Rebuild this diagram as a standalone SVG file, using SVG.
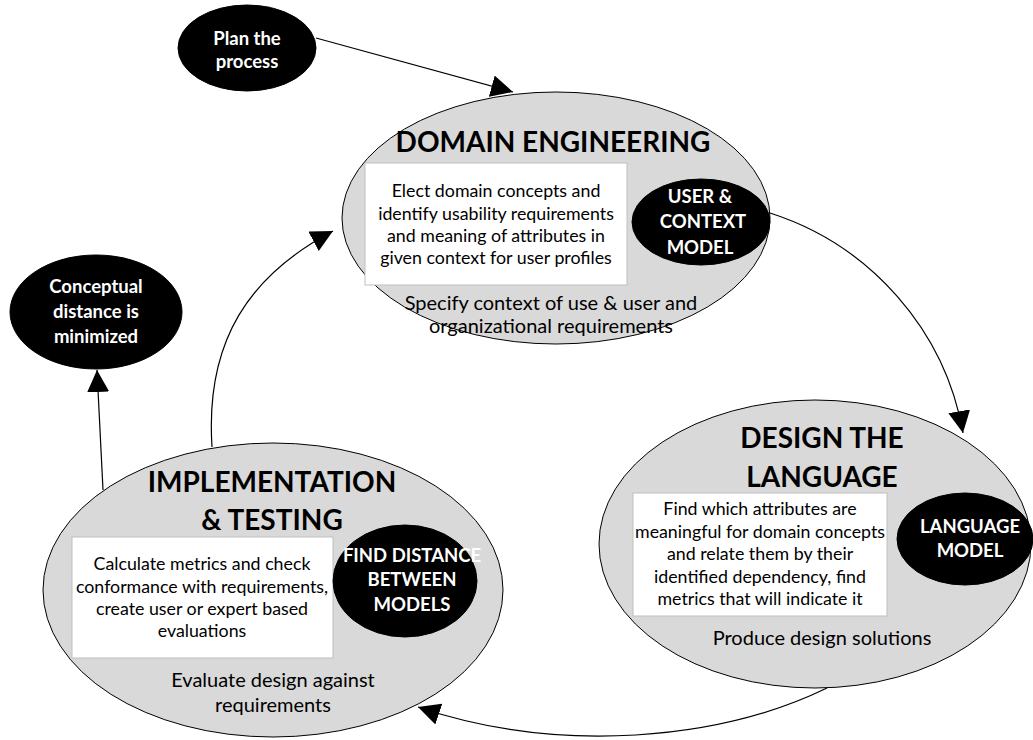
<svg xmlns="http://www.w3.org/2000/svg" width="1033" height="740" viewBox="0 0 1033 740">
<defs>
<marker id="arr" markerUnits="userSpaceOnUse" markerWidth="22" markerHeight="22" viewBox="0 0 22 22" refX="22" refY="11" orient="auto">
<path d="M0,0 L22,11 L0,22 z" fill="#000"/>
</marker>
</defs>
<style>
.phase{fill:#d9d9d9;stroke:#000;stroke-width:1}
.dark{fill:#000;stroke:#000;stroke-width:1}
.box{fill:#fff;stroke:#bfbfbf;stroke-width:1}
.title{font-family:Lato,"Liberation Sans",sans-serif;font-weight:bold;font-size:28px;fill:#000;text-anchor:middle}
.btxt{font-family:Lato,"Liberation Sans",sans-serif;font-size:17.8px;fill:#000;text-anchor:middle}
.stxt{font-family:Lato,"Liberation Sans",sans-serif;font-size:20px;fill:#000;text-anchor:middle}
.wtxt{font-family:Lato,"Liberation Sans",sans-serif;font-weight:bold;font-size:18.5px;fill:#fff;text-anchor:middle}
.conn{fill:none;stroke:#000;stroke-width:1.2}
</style>
<rect width="1033" height="740" fill="#fff"/>
<g id="plan">
<ellipse class="dark" cx="247" cy="48" rx="69" ry="43"/>
<text class="wtxt" x="247" y="45">Plan the</text>
<text class="wtxt" x="247" y="68">process</text>
</g>
<g id="domain">
<ellipse class="phase" cx="556" cy="218" rx="214" ry="126"/>
<text class="title" x="553" y="152">DOMAIN ENGINEERING</text>
<rect class="box" x="365" y="163" width="262" height="122"/>
<text class="btxt" x="496" y="197">Elect domain concepts and</text>
<text class="btxt" x="496" y="220">identify usability requirements</text>
<text class="btxt" x="496" y="242">and meaning of attributes in</text>
<text class="btxt" x="496" y="264">given context for user profiles</text>
<text class="stxt" x="551" y="310">Specify context of use &amp; user and</text>
<text class="stxt" x="551" y="333">organizational requirements</text>
</g>
<g id="usermodel">
<ellipse class="dark" cx="701" cy="222" rx="69" ry="43"/>
<text class="wtxt" x="700" y="203">USER &amp;</text>
<text class="wtxt" x="703" y="228">CONTEXT</text>
<text class="wtxt" x="700" y="254">MODEL</text>
</g>
<g id="design">
<ellipse class="phase" cx="815" cy="544" rx="216" ry="144"/>
<text class="title" x="822" y="448">DESIGN THE</text>
<text class="title" x="822" y="487">LANGUAGE</text>
<rect class="box" x="633" y="493" width="254" height="123"/>
<text class="btxt" x="760" y="515">Find which attributes are</text>
<text class="btxt" x="760" y="538">meaningful for domain concepts</text>
<text class="btxt" x="760" y="560">and relate them by their</text>
<text class="btxt" x="760" y="583">identified dependency, find</text>
<text class="btxt" x="760" y="605">metrics that will indicate it</text>
<text class="stxt" x="822" y="645">Produce design solutions</text>
</g>
<g id="langmodel">
<ellipse class="dark" cx="965" cy="539" rx="68" ry="46"/>
<text class="wtxt" x="970" y="533">LANGUAGE</text>
<text class="wtxt" x="970" y="557">MODEL</text>
</g>
<g id="impl">
<ellipse class="phase" cx="273" cy="590" rx="230" ry="147"/>
<text class="title" x="272" y="492">IMPLEMENTATION</text>
<text class="title" x="272" y="530">&amp; TESTING</text>
<rect class="box" x="72" y="537" width="261" height="121"/>
<text class="btxt" x="202" y="570">Calculate metrics and check</text>
<text class="btxt" x="202" y="593">conformance with requirements,</text>
<text class="btxt" x="202" y="615">create user or expert based</text>
<text class="btxt" x="202" y="637">evaluations</text>
<text class="stxt" x="273" y="687">Evaluate design against</text>
<text class="stxt" x="273" y="712">requirements</text>
</g>
<g id="distance">
<ellipse class="dark" cx="405" cy="581" rx="72" ry="56"/>
<text class="wtxt" x="412" y="562">FIND DISTANCE</text>
<text class="wtxt" x="412" y="586">BETWEEN</text>
<text class="wtxt" x="412" y="611">MODELS</text>
</g>
<g id="conceptual">
<ellipse class="dark" cx="96" cy="312" rx="86" ry="57"/>
<text class="wtxt" x="96" y="293">Conceptual</text>
<text class="wtxt" x="96" y="318">distance is</text>
<text class="wtxt" x="96" y="343">minimized</text>
</g>
<g id="connectors">
<path class="conn" d="M316,38 L513,92" marker-end="url(#arr)"/>
<path class="conn" d="M770,213 C870,245 945,330 963,433" marker-end="url(#arr)"/>
<path class="conn" d="M827,688 C720,740 560,755 418,707" marker-end="url(#arr)"/>
<path class="conn" d="M212,447 C205,340 250,275 333,231" marker-end="url(#arr)"/>
<path class="conn" d="M103,490 L97,370" marker-end="url(#arr)"/>
</g>
</svg>
